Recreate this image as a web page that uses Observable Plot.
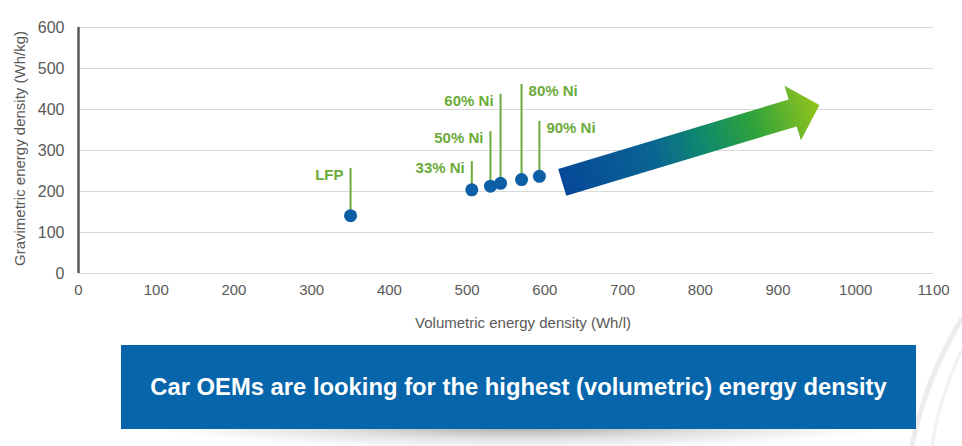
<!DOCTYPE html>
<html>
<head>
<meta charset="utf-8">
<script src="https://cdn.jsdelivr.net/npm/d3@7"></script>
<script src="https://cdn.jsdelivr.net/npm/@observablehq/plot@0.6"></script>
<style>
  html, body { margin: 0; padding: 0; background: #fff; }
  #wrap { position: relative; width: 962px; height: 446px; overflow: hidden; font-family: "Liberation Sans", Arial, sans-serif; }
  #chart { position: absolute; left: 0; top: 0; }
  #shadow { position: absolute; left: 150px; top: 424px; width: 740px; height: 26px;
    background: radial-gradient(ellipse 50% 100% at 50% 0%, rgba(0,0,0,0.38), rgba(0,0,0,0.12) 55%, rgba(0,0,0,0) 100%); }
  #banner { position: absolute; left: 121px; top: 345px; width: 795px; height: 84px; background: #0665ab; color: #fff;
    font-weight: bold; font-size: 23.8px; display: flex; align-items: center; justify-content: center; white-space: nowrap; }
  #deco { position: absolute; left: 0; top: 0; }
</style>
</head>
<body>
<div id="wrap">
  <div id="chart"></div>
  <svg id="deco" width="962" height="446"><path d="M 962 318 Q 925 380 912 446" fill="none" stroke="#ececec" stroke-width="5"/><path d="M 962 350 Q 940 395 932 446" fill="none" stroke="#f2f2f2" stroke-width="3"/></svg>
  <div id="shadow"></div>
  <div id="banner">Car OEMs are looking for the highest (volumetric) energy density</div>
</div>
<script>
// ---- data ----
const labels = ["LFP", "33% Ni", "50% Ni", "60% Ni", "80% Ni", "90% Ni"];
const volumetric = [350, 506, 530, 543, 570, 593];    // Wh/l
const gravimetric = [141, 204, 213, 220, 229, 237];   // Wh/kg
const stemTop = [256, 273, 346, 437, 461, 371];       // label leader top (Wh/kg)
const labelSide = ["left", "left", "left", "left", "right", "right"];
const xTicks = [0, 100, 200, 300, 400, 500, 600, 700, 800, 900, 1000, 1100];
const yTicks = [0, 100, 200, 300, 400, 500, 600];
const xLabel = "Volumetric energy density (Wh/l)";
const yLabel = "Gravimetric energy density (Wh/kg)";
const arrowFrom = [623, 221];  // trend arrow tail (Wh/l, Wh/kg)
const arrowTo = [954, 410];    // trend arrow tip

const data = labels.map((label, i) => ({
  label, volumetric: volumetric[i], gravimetric: gravimetric[i], top: stemTop[i], side: labelSide[i]
}));

const green = "#6aab3b";
const blue = "#0d5fa5";

const plot = Plot.plot({
  width: 962, height: 335,
  marginLeft: 78, marginRight: 29, marginTop: 27, marginBottom: 62,
  style: { fontFamily: "'Liberation Sans', Arial, sans-serif", fontSize: "16px", color: "#595959", background: "transparent" },
  x: { domain: [0, 1100], ticks: xTicks, tickFormat: d => String(d), tickSize: 0, tickPadding: 11, label: null },
  y: { domain: [0, 600], ticks: yTicks, tickFormat: d => String(d), tickSize: 0, tickPadding: 14, label: null },
  marks: [
    Plot.ruleY(yTicks, { stroke: "#d9d9d9", strokeWidth: 1.2 }),
    Plot.ruleX([0], { y1: 0, y2: 600, stroke: "#595959", strokeWidth: 2.5 }),
    Plot.ruleX(data, { x: "volumetric", y1: "gravimetric", y2: "top", stroke: green, strokeWidth: 2 }),
    Plot.dot(data, { x: "volumetric", y: "gravimetric", r: 6.5, fill: blue }),
    Plot.text(data.filter(d => d.side === "left"), {
      x: "volumetric", y: "top", text: "label", textAnchor: "end", dx: -7, dy: 7,
      fill: green, fontWeight: "bold", fontSize: 15, ariaLabel: "ni-labels"
    }),
    Plot.text(data.filter(d => d.side === "right"), {
      x: "volumetric", y: "top", text: "label", textAnchor: "start", dx: 7, dy: 7,
      fill: green, fontWeight: "bold", fontSize: 15, ariaLabel: "ni-labels"
    }),
    Plot.text([xLabel], { frameAnchor: "bottom", text: d => d, textAnchor: "middle", lineAnchor: "middle",
      dx: 17, dy: 50, fontSize: 15, fill: "#595959" }),
    Plot.text([yLabel], { frameAnchor: "left", text: d => d, textAnchor: "middle", lineAnchor: "middle",
      rotate: -90, dx: -58, dy: -2, fontSize: 15, fill: "#595959" })
  ]
});

document.getElementById("chart").appendChild(plot);

// x axis tick labels slightly smaller than y tick labels
d3.select(plot).selectAll('g[aria-label^="x-axis"] text').style("font-size", "15px");

// superscript percent signs
d3.select(plot).selectAll('g[aria-label="ni-labels"] text').each(function () {
  const t = this.textContent;
  const parts = t.split("%");
  if (parts.length < 2) return;
  const s = d3.select(this).style("white-space", "pre");
  s.text(null);
  s.append("tspan").text(parts[0]);
  s.append("tspan").attr("font-size", "10px").attr("dy", "-5").text("%");
  s.append("tspan").attr("dy", "5").text(parts[1]);
});

// gradient trend arrow, positioned through the plot's scales
const sx = plot.scale("x"), sy = plot.scale("y");
const x0 = sx.apply(arrowFrom[0]), y0 = sy.apply(arrowFrom[1]);
const x1 = sx.apply(arrowTo[0]), y1 = sy.apply(arrowTo[1]);
const L = Math.hypot(x1 - x0, y1 - y0);
const ux = (x1 - x0) / L, uy = (y1 - y0) / L;
const nx = -uy, ny = ux;
const shaftHalf = 14, headHalf = 28.5, headLen = 28;
const bx = x1 - ux * headLen, by = y1 - uy * headLen;
const pts = [
  [x0 + nx * shaftHalf, y0 + ny * shaftHalf],
  [bx + nx * shaftHalf, by + ny * shaftHalf],
  [bx + nx * headHalf, by + ny * headHalf],
  [x1, y1],
  [bx - nx * headHalf, by - ny * headHalf],
  [bx - nx * shaftHalf, by - ny * shaftHalf],
  [x0 - nx * shaftHalf, y0 - ny * shaftHalf]
];
const svg = d3.select(plot);
const defs = svg.append("defs");
const grad = defs.append("linearGradient").attr("id", "trendGrad")
  .attr("gradientUnits", "userSpaceOnUse")
  .attr("x1", x0).attr("y1", y0).attr("x2", x1).attr("y2", y1);
[["0", "#064898"], ["0.35", "#0a6494"], ["0.55", "#0f8a6c"], ["0.74", "#2ea23c"], ["1", "#95c41c"]]
  .forEach(([o, c]) => grad.append("stop").attr("offset", o).attr("stop-color", c));
svg.append("path")
  .attr("d", "M" + pts.map(p => p.join(",")).join("L") + "Z")
  .attr("fill", "url(#trendGrad)");
</script>
</body>
</html>
